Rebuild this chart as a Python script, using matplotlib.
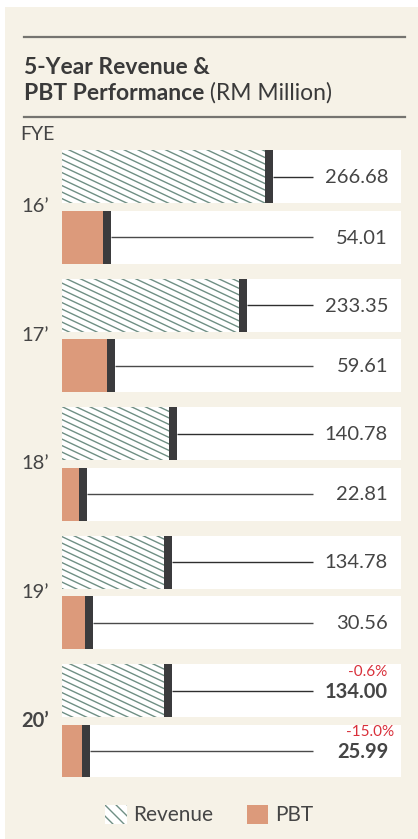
import matplotlib.pyplot as plt
import numpy as np
from matplotlib.collections import LineCollection
from matplotlib.patches import Patch, Rectangle
from matplotlib.transforms import IdentityTransform

years = ["16’", "17’", "18’", "19’", "20’"]
revenue = [266.68, 233.35, 140.78, 134.78, 134.00]
pbt = [54.01, 59.61, 22.81, 30.56, 25.99]
rev_change = "-0.6%"
pbt_change = "-15.0%"

BG = "#f6f2e7"
DARK = "#3b3b3d"
TEXT = "#454545"
SALMON = "#dc9a7b"
HATCH = "#6f8f84"
RED = "#d9303a"

plt.rcParams["font.family"] = ["Lato", "DejaVu Sans"]

W, H = 418, 839
fig = plt.figure(figsize=(W / 100, H / 100), dpi=100)
fig.patch.set_facecolor("white")

# full-figure layout axes in pixel units
bg = fig.add_axes([0, 0, 1, 1])
bg.set_xlim(0, W)
bg.set_ylim(H, 0)
bg.axis("off")
bg.add_patch(Rectangle((5, 7), W, H, facecolor=BG, edgecolor="none"))
bg.plot([24, 405], [37, 37], color="#757470", lw=1.6)
bg.plot([24, 405], [117, 117], color="#757470", lw=1.6)
bg.text(24, 68, "5-Year Revenue &", fontsize=16.5, fontweight="bold",
        color="#3a3a3a", va="center", ha="left")
t = bg.text(24, 93, "PBT Performance", fontsize=16.5, fontweight="bold",
            color="#3a3a3a", va="center", ha="left")
bg.annotate(" (RM Million)", xycoords=t, xy=(1, 0), va="bottom", ha="left",
            fontsize=16.5, color="#3a3a3a")
bg.text(20, 135, "FYE", fontsize=14, color=TEXT, va="center", ha="left")

# bar axes: x in RM million
left_px, right_px, top_px, bot_px = 62, 401, 150, 777
scale = 0.76  # px per RM million
ax = fig.add_axes([left_px / W, 1 - bot_px / H, (right_px - left_px) / W,
                   (bot_px - top_px) / H])
xmax = (right_px - left_px) / scale
ax.set_xlim(0, xmax)
ax.set_ylim(bot_px - top_px, 0)
ax.axis("off")

pitch, box_h = 128.5, 53
rev_y = 26.5 + pitch * np.arange(len(years))
pbt_y = rev_y + 60.5
cap = 8 / scale
line_end = (313 - left_px) / scale
val_x = (388 - left_px) / scale

ax.barh(rev_y, xmax, height=box_h, color="white", lw=0)
ax.barh(pbt_y, xmax, height=box_h, color="white", lw=0)
rev_bars = ax.barh(rev_y, revenue, height=box_h, color="white", lw=0)
ax.barh(pbt_y, pbt, height=box_h, color=SALMON, lw=0)
ax.barh(rev_y, cap, left=revenue, height=box_h, color=DARK, lw=0)
ax.barh(pbt_y, cap, left=pbt, height=box_h, color=DARK, lw=0)
ax.hlines(rev_y, np.array(revenue) + cap, line_end, color="#2f2f2f", lw=1)
ax.hlines(pbt_y, np.array(pbt) + cap, line_end, color="#4a4a4a", lw=1)

# shallow diagonal hatch for revenue bars
s, step = 0.47, 6.5
segs = [[(0, c), (W, c - s * W)] for c in np.arange(0, H + s * W, step)]
for bar in rev_bars:
    lc = LineCollection(segs, colors=HATCH, linewidths=1.0,
                        transform=IdentityTransform())
    ax.add_collection(lc, autolim=False)
    lc.set_clip_path(bar)

last = len(years) - 1
for i, yr in enumerate(years):
    wt = "bold" if i == last else "normal"
    ax.text(val_x, rev_y[i] + 1, f"{revenue[i]:.2f}", ha="right", va="center",
            fontsize=14.5, color=TEXT, fontweight=wt)
    ax.text(val_x, pbt_y[i] + 1, f"{pbt[i]:.2f}", ha="right", va="center",
            fontsize=14.5, color=TEXT, fontweight=wt)
    bg.text(21, (top_px + (rev_y[i] + pbt_y[i]) / 2), yr, ha="left",
            va="center", fontsize=14.5, color=TEXT, fontweight=wt)

ax.text((387 - left_px) / scale, rev_y[last] - 18, rev_change, ha="right",
        va="center", fontsize=11, color=RED)
ax.text((394 - left_px) / scale, pbt_y[last] - 19, pbt_change, ha="right",
        va="center", fontsize=11, color=RED)

handles = [Patch(facecolor="white", edgecolor=HATCH, hatch="\\\\\\", lw=0),
           Patch(facecolor=SALMON, edgecolor="none", lw=0)]
plt.rcParams["hatch.linewidth"] = 1.0
fig.legend(handles, ["Revenue", "PBT"], loc="center", ncol=2,
           bbox_to_anchor=(0.5, 1 - 815 / H), frameon=False, fontsize=15,
           labelcolor=TEXT, handlelength=1.05, handleheight=1.05,
           handletextpad=0.3, columnspacing=1.6)

fig.savefig("out.png", dpi=100, facecolor=fig.get_facecolor())
